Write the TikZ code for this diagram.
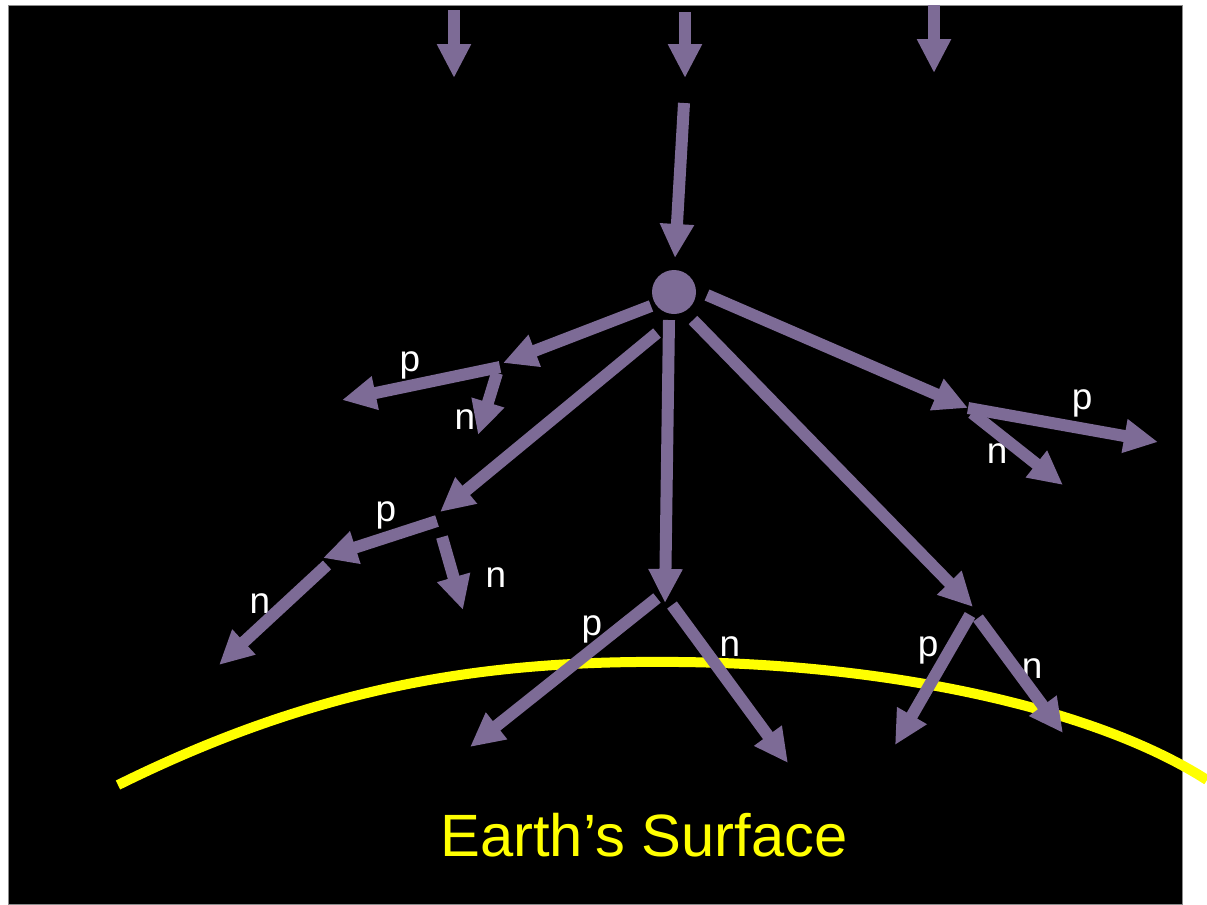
\documentclass[tikz,border=0pt]{standalone}
\usepackage{fontspec}
\usepackage{xcolor}
\usepackage{tikz}
\usetikzlibrary{arrows.meta}
\newfontfamily\labelfont{Liberation Sans}
\definecolor{RayPurple}{HTML}{7D6B96}
\definecolor{SurfYellow}{HTML}{FFFF00}
\definecolor{EdgeGray}{HTML}{8C8C8C}

\begin{document}
\begin{tikzpicture}[x=0.02cm, y=-0.02cm,
    ray/.style={draw=RayPurple, line width=0.24cm,
      -{Triangle[length=0.68cm, width=0.64cm]}},
    tag/.style={text=white, font=\labelfont\fontsize{21}{24}\selectfont, inner sep=0pt}]
  \useasboundingbox (0,0) rectangle (1207,904);
  \fill[black, draw=EdgeGray, line width=0.5pt] (8,5) rectangle (1182,904);

  % incoming primaries
  \coordinate (in1s) at (454,10);   \coordinate (in1e) at (454,78);
  \coordinate (in2s) at (685,12);   \coordinate (in2e) at (685,78);
  \coordinate (in3s) at (934,5);    \coordinate (in3e) at (934,73);
  \coordinate (in4s) at (684,103);  \coordinate (in4e) at (675,258);
  \node[circle, fill=RayPurple, minimum size=0.88cm, inner sep=0pt] (hit) at (674,292) {};

  % first generation
  \coordinate (a1s) at (651,306);   \coordinate (a1e) at (503,363);
  \coordinate (a2s) at (657,333);   \coordinate (a2e) at (440,512);
  \coordinate (a3s) at (669,320);   \coordinate (a3e) at (665,603);
  \coordinate (a4s) at (693,320);   \coordinate (a4e) at (973,607);
  \coordinate (a5s) at (707,295);   \coordinate (a5e) at (968,408);

  % second generation
  \coordinate (b1ps) at (500,367);  \coordinate (b1pe) at (342,400);
  \coordinate (b1ns) at (497,373);  \coordinate (b1ne) at (478,435);
  \coordinate (b2ps) at (437,521);  \coordinate (b2pe) at (323,558);
  \coordinate (b2ns) at (442,537);  \coordinate (b2ne) at (463,610);
  \coordinate (b3ns) at (327,565);  \coordinate (b3ne) at (219,665);
  \coordinate (b5ps) at (968,408);  \coordinate (b5pe) at (1158,442);
  \coordinate (b5ns) at (972,413);  \coordinate (b5ne) at (1063,485);
  \coordinate (b3ps) at (657,598);  \coordinate (b3pe) at (470,747);
  \coordinate (b3qs) at (672,605);  \coordinate (b3qe) at (788,763);
  \coordinate (b4ps) at (970,615);  \coordinate (b4pe) at (895,745);
  \coordinate (b4ns) at (978,618);  \coordinate (b4ne) at (1063,733);

  \node[tag] (l1p) at (410,365) {p};
  \node[tag] (l1n) at (465,420) {n};
  \node[tag] (l2p) at (386,515) {p};
  \node[tag] (l2n) at (496,578) {n};
  \node[tag] (l3n) at (260,604) {n};
  \node[tag] (l5p) at (1082,403) {p};
  \node[tag] (l5n) at (997,454) {n};
  \node[tag] (l3p) at (592,629) {p};
  \node[tag] (l3q) at (730,647) {n};
  \node[tag] (l4p) at (928,650) {p};
  \node[tag] (l4n) at (1032,669) {n};

  \draw[SurfYellow, line width=0.2cm] (118,785) .. controls (330,680) and (500,660) .. (680,662)
    .. controls (880,664) and (1090,705) .. (1207,780);
  \node[text=SurfYellow, font=\labelfont\fontsize{34}{40}\selectfont, inner sep=0pt] (surf) at (644,835) {Earth’s Surface};

  \foreach \s/\e in {in1s/in1e, in2s/in2e, in3s/in3e, in4s/in4e,
      a1s/a1e, a2s/a2e, a3s/a3e, a4s/a4e, a5s/a5e,
      b1ps/b1pe, b1ns/b1ne, b2ps/b2pe, b2ns/b2ne, b3ns/b3ne,
      b5ps/b5pe, b5ns/b5ne, b3ps/b3pe, b3qs/b3qe, b4ps/b4pe, b4ns/b4ne}
    \draw[ray] (\s) -- (\e);
\end{tikzpicture}
\end{document}
